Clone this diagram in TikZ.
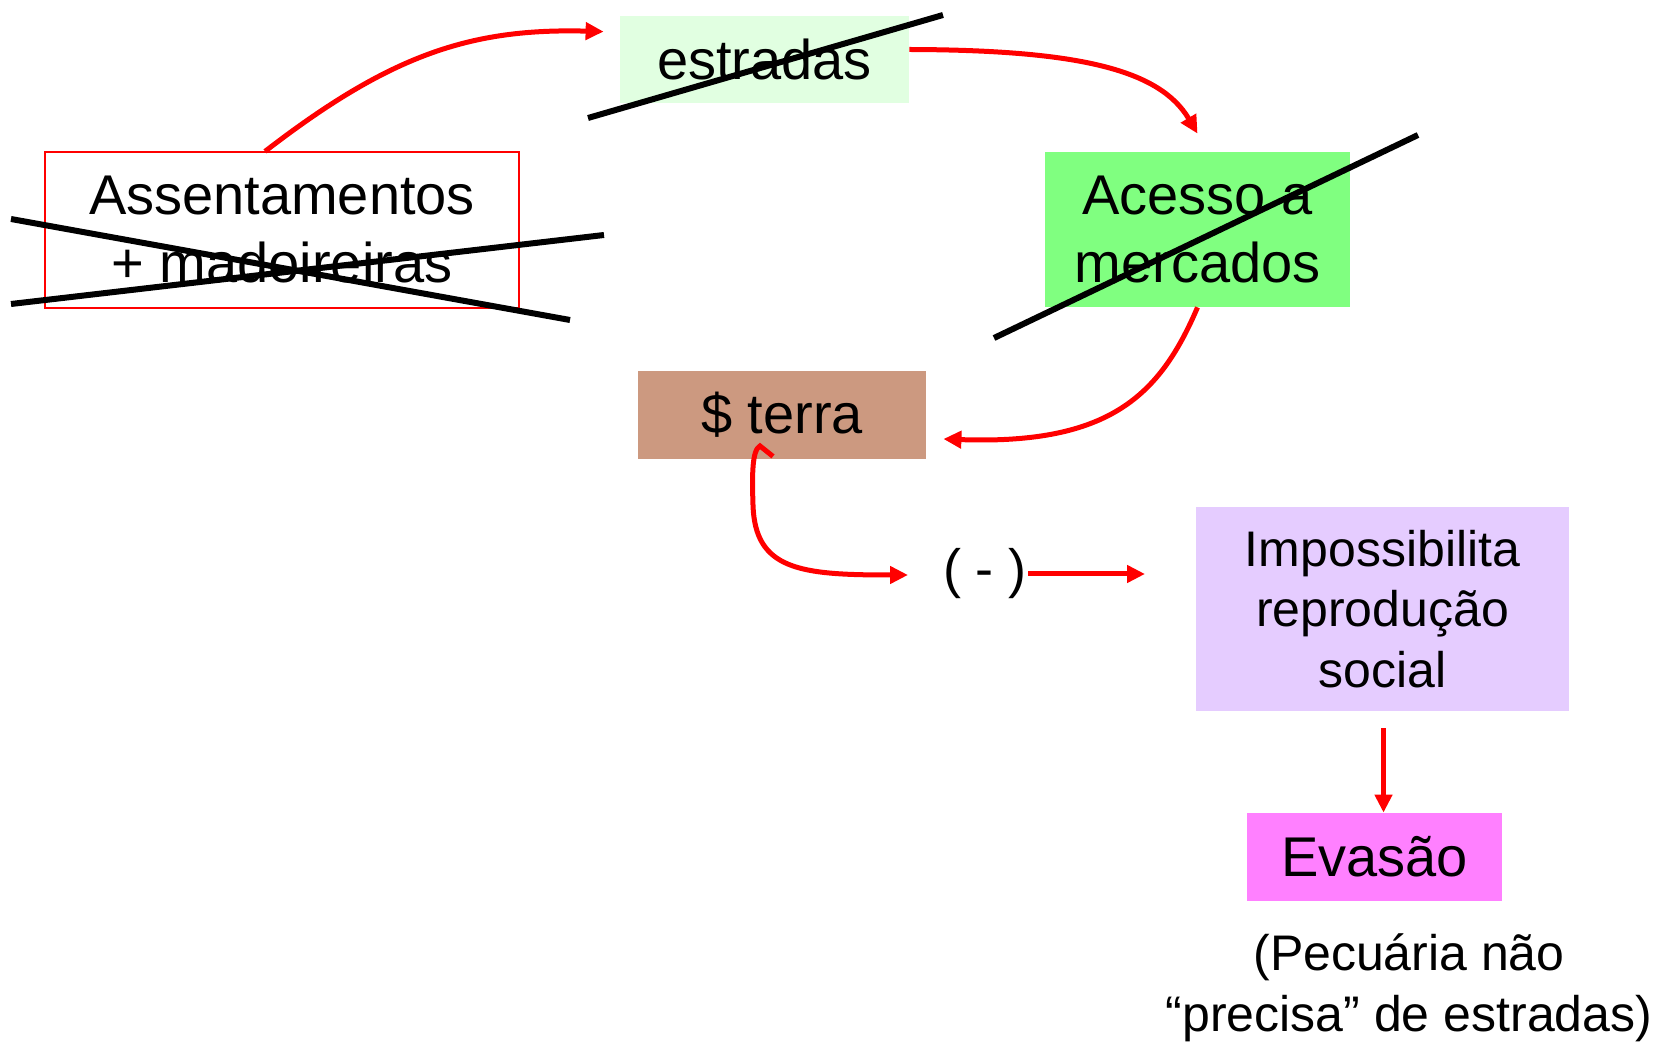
\documentclass[tikz,border=0pt]{standalone}
\usepackage{fontspec}
\setmainfont{Liberation Sans}
\usetikzlibrary{arrows.meta,calc}
\definecolor{estrfill}{HTML}{E1FFE1}
\definecolor{acesfill}{HTML}{80FF80}
\definecolor{terrafill}{HTML}{CC9980}
\definecolor{impfill}{HTML}{E5CCFF}
\definecolor{evasfill}{HTML}{FF80FF}
\begin{document}
\begin{tikzpicture}[x=0.5pt,y=-0.5pt,
  box/.style={inner sep=0pt, align=center, font=\fontsize{28}{34}\selectfont},
  midfont/.style={font=\fontsize{25}{30.25}\selectfont},
  redarr/.style={draw=red, line width=2.5pt, -{Triangle[length=9pt,width=8.5pt]}},
  strike/.style={draw=black, line width=3pt},
]
\useasboundingbox (0,0) rectangle (1660,1042);

\node[box, fill=estrfill, minimum width=144.5pt, minimum height=43.5pt] (estr) at (764.5,59.5) {estradas};
\node[box, draw=red, line width=0.6pt, minimum width=237pt, minimum height=78pt] (assent) at (282,230) {Assentamentos\\+ madoireiras};
\node[box, fill=acesfill, minimum width=152.5pt, minimum height=77.5pt] (acesso) at (1197.5,229.5) {Acesso a\\mercados};
\node[box, fill=terrafill, minimum width=144pt, minimum height=44pt] (terra) at (782,415) {\$ terra};
\node[box, midfont, fill=impfill, minimum width=186.5pt, minimum height=102pt] (imp) at (1382.5,609) {Impossibilita\\reprodução\\social};
\node[box, fill=evasfill, minimum width=127.5pt, minimum height=44pt] (evas) at (1374.5,857) {Evasão};
\node[box, font=\fontsize{27}{32}\selectfont] (minus) at (985,574) {( - )};
\node[box, midfont] (note) at (1409,988) {(Pecuária não\\“precisa” de estradas)};

% connector end points
\coordinate (a1s) at ([xshift=-8.5pt]assent.north);
\coordinate (a1e) at ([xshift=-8pt,yshift=-8pt]estr.north west);
\coordinate (a2s) at ([yshift=5pt]estr.east);
\coordinate (a2e) at ([yshift=9pt]acesso.north);
\coordinate (a3e) at ([xshift=8.5pt,yshift=-12pt]terra.east);
\coordinate (a4s) at ([xshift=-4.5pt,yshift=1.5pt]terra.south);
\coordinate (a4e) at (908,575);
\coordinate (a5s) at (1028,574);
\coordinate (a5e) at (1145,574);
\coordinate (a6s) at ([xshift=0.5pt,yshift=-8.5pt]imp.south);

\draw[redarr] (a1s) .. controls (390,55) and (470,28) .. (a1e);
\draw[redarr] (a2s) .. controls (1080,50) and (1160,70) .. (a2e);
\draw[redarr] (acesso.south) .. controls (1160,395) and (1110,445) .. (a3e);
\draw[redarr] (a4s) -- (760,446) .. controls (752,450) and (752,475) .. (753,505) .. controls (755,570) and (800,575) .. (a4e);
\draw[redarr] (a5s) -- (a5e);
\draw[redarr] (a6s) -- (a6s |- evas.north);

% strike-through lines
\draw[strike] (588,118) -- (943,15);
\draw[strike] (11,219) -- (570,320);
\draw[strike] (11,304) -- (604,235);
\draw[strike] (994,338) -- (1418,135);
\end{tikzpicture}
\end{document}
